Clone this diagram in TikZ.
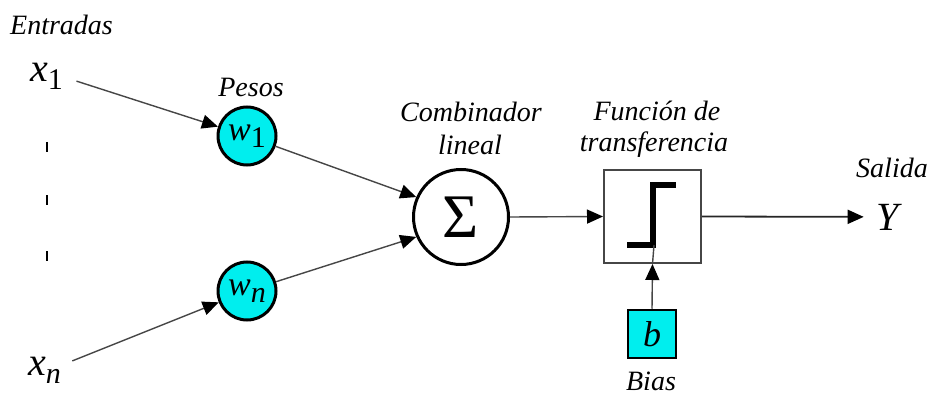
\documentclass[tikz,border=0pt]{standalone}
\usepackage{fontspec}
\setmainfont{Liberation Serif}
\usetikzlibrary{arrows.meta}
\definecolor{cyanfill}{RGB}{0,238,238}
\definecolor{linegray}{RGB}{70,70,70}
\newcommand{\mysub}[2][-8pt]{\raisebox{#1}{\fontsize{30}{30}\selectfont #2}}
\begin{document}
\begin{tikzpicture}[x=1pt,y=-1pt,
  lbl/.style={font=\fontsize{28}{30}\selectfont\itshape, inner sep=0pt, anchor=base},
  invar/.style={font=\fontsize{40}{40}\selectfont\itshape, inner sep=0pt},
  conn/.style={draw=linegray, line width=1.4pt, -{Triangle[length=16pt,width=14pt,color=black]}},
  wnode/.style={circle, draw=black, line width=3pt, fill=cyanfill, minimum size=58pt, inner sep=0pt, font=\fontsize{34}{34}\selectfont\itshape},
  sumnode/.style={circle, draw=black, line width=3pt, fill=white, minimum size=95pt, inner sep=0pt, font=\fontsize{62}{62}\selectfont},
  tfbox/.style={rectangle, draw=linegray, line width=2pt, fill=white, minimum width=97pt, minimum height=93pt, inner sep=0pt},
  biasbox/.style={rectangle, draw=black, line width=2.5pt, fill=cyanfill, minimum size=48pt, inner sep=0pt, font=\fontsize{36}{36}\selectfont\itshape},
  tick/.style={line width=2.5pt}
]
\useasboundingbox[fill=white] (0,0) rectangle (933,398);

% labels
\node[lbl, anchor=base west] (lEnt) at (10,35) {Entradas};
\node[lbl] (lPes) at (251,97) {Pesos};
\node[lbl] (lComb1) at (471,122) {Combinador};
\node[lbl] (lComb2) at (470,155) {lineal};
\node[lbl] (lFun1) at (657,121) {Función de};
\node[lbl] (lFun2) at (654,152) {transferencia};
\node[lbl] (lSal) at (892,177) {Salida};
\node[lbl] (lBias) at (651,390) {Bias};

% inputs
\node[invar, anchor=base west] (x1) at (30,82) {x\mysub{\upshape 1}};
\node[invar, anchor=base west] (xn) at (28,375) {x\mysub{n}};

% vertical dots
\draw[tick] (47,142) -- (47,152);
\draw[tick] (47,195) -- (47,205);
\draw[tick] (47,251) -- (47,261);

% weights
\node[wnode] (w1) at (247,136) {w\mysub[-7pt]{\upshape 1}};
\node[wnode] (wn) at (247,291) {w\mysub[-7pt]{n}};

% summation
\node[sumnode] (sigma) at (461,217) {Σ};

% transfer function box
\node[tfbox] (tf) at (652.5,216.5) {};
\draw[line width=6pt] (627,245) -- (652.5,245) -- (652.5,185) -- (676,185);

% bias
\node[biasbox] (b) at (652,334) {b};

% output
\node[invar, anchor=base] (Y) at (888,230) {Y};

% connectors
\draw[conn, shorten <=14pt] (x1.east) -- (w1);
\draw[conn, shorten <=12pt] (xn.15) -- (wn);
\draw[conn] (w1) -- (sigma.156);
\draw[conn] (wn) -- (sigma.204);
\draw[conn] (sigma.east) -- (tf.west);
\draw[conn, line width=1.8pt, draw=black!85, shorten >=13pt] (tf.east) -- (Y.west);
\draw[conn] (b.north) -- (tf.south);
\draw[draw=linegray, line width=1.4pt] (tf.south) -- (654,245);
\end{tikzpicture}
\end{document}
